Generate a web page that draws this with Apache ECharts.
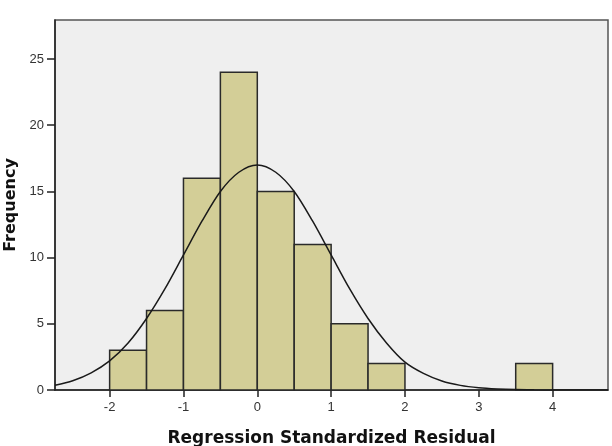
<!DOCTYPE html>
<html>
<head>
<meta charset="utf-8">
<script src="https://cdn.jsdelivr.net/npm/echarts@6/dist/echarts.min.js"></script>
<style>html,body{margin:0;padding:0;background:#fff}#c{width:612px;height:446px}</style>
</head>
<body>
<div id="c"></div>
<script>
// Histogram bins (start, end) and frequencies
const binStarts = [-2, -1.5, -1, -0.5, 0, 0.5, 1, 1.5, 3.5];
const binEnds   = [-1.5, -1, -0.5, 0, 0.5, 1, 1.5, 2, 4];
const counts    = [3, 6, 16, 24, 15, 11, 5, 2, 2];
// Normal curve points
const curveX = [-2.74, -2.5, -2.25, -2, -1.75, -1.5, -1.25, -1, -0.75, -0.5, -0.25, 0, 0.25, 0.5, 0.75, 1, 1.25, 1.5, 1.75, 2, 2.25, 2.5, 2.75, 3, 3.25, 3.5, 3.75, 4, 4.75];
const curveY = [0.36, 0.7, 1.3, 2.2, 3.55, 5.4, 7.65, 10.2, 12.75, 15.0, 16.45, 17.0, 16.45, 15.0, 12.75, 10.2, 7.65, 5.4, 3.55, 2.1, 1.25, 0.68, 0.35, 0.17, 0.08, 0.03, 0.01, 0.0, 0.0];
const xTicks = [-2, -1, 0, 1, 2, 3, 4];
const yTicks = [0, 5, 10, 15, 20, 25];

const chart = echarts.init(document.getElementById('c'), null, {renderer: 'canvas'});
const barData = binStarts.map((s, i) => [s, binEnds[i], counts[i]]);
const lineData = curveX.map((x, i) => [x, curveY[i]]);
const labelFont = {fontFamily: 'Liberation Sans, Arial, sans-serif', fontSize: 13, color: '#333'};

chart.setOption({
  animation: false,
  backgroundColor: '#ffffff',
  grid: {left: 55, top: 20, right: 4, bottom: 56, containLabel: false, outerBoundsMode: 'none',
         show: true, backgroundColor: '#EFEFEF', borderColor: '#555', borderWidth: 1.5},
  xAxis: {
    type: 'value', min: -2.74, max: 4.75,
    name: 'Regression Standardized Residual', nameLocation: 'middle', nameGap: 40,
    nameTextStyle: {fontFamily: 'DejaVu Sans, Verdana, sans-serif', fontWeight: 'bold', fontSize: 17, color: '#111'},
    axisLine: {show: true, onZero: false, lineStyle: {color: '#222', width: 1.5}},
    axisTick: {show: true, length: 7, customValues: xTicks, lineStyle: {color: '#222', width: 1.5}},
    axisLabel: Object.assign({customValues: xTicks, margin: 11}, labelFont),
    splitLine: {show: false}
  },
  yAxis: {
    type: 'value', min: 0, max: 27.95,
    name: 'Frequency', nameLocation: 'middle', nameGap: 32, nameRotate: 90,
    nameTextStyle: {fontFamily: 'DejaVu Sans, Verdana, sans-serif', fontWeight: 'bold', fontSize: 16, color: '#111'},
    axisLine: {show: true, onZero: false, lineStyle: {color: '#222', width: 1.5}},
    axisTick: {show: true, length: 8, customValues: yTicks, lineStyle: {color: '#222', width: 1.5}},
    axisLabel: Object.assign({customValues: yTicks, margin: 11}, labelFont),
    splitLine: {show: false}
  },
  series: [
    {
      type: 'custom',
      data: barData,
      encode: {x: [0, 1], y: 2},
      renderItem: function (params, api) {
        const p0 = api.coord([api.value(0), api.value(2)]);
        const p1 = api.coord([api.value(1), 0]);
        return {
          type: 'rect',
          shape: {x: p0[0], y: p0[1], width: p1[0] - p0[0], height: p1[1] - p0[1]},
          style: {fill: '#D3CE97', stroke: '#2a2a2a', lineWidth: 1.5}
        };
      },
      z: 2
    },
    {
      type: 'line',
      data: lineData,
      smooth: 0.3,
      showSymbol: false,
      symbol: 'none',
      lineStyle: {color: '#1a1a1a', width: 1.5},
      z: 3
    }
  ]
});
</script>
</body>
</html>
